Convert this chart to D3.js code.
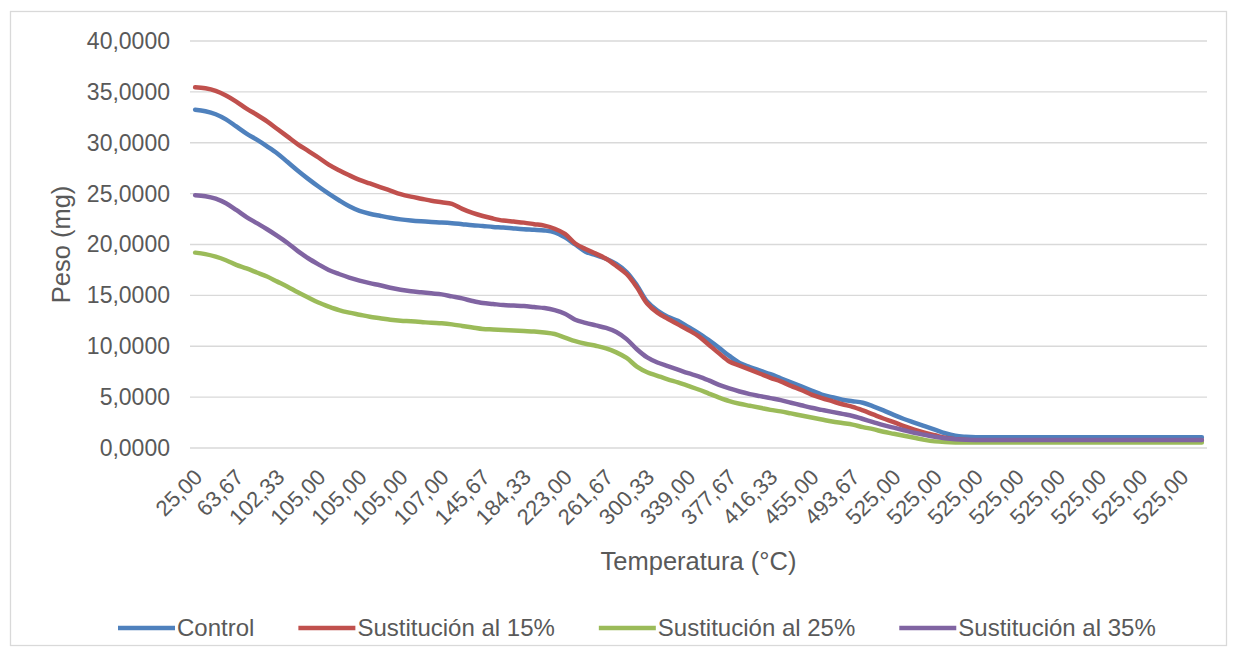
<!DOCTYPE html>
<html>
<head>
<meta charset="utf-8">
<script src="https://cdn.jsdelivr.net/npm/d3@7"></script>
<style>
  body { margin: 0; background: #ffffff; }
  svg { display: block; }
  text { font-family: "Liberation Sans", Arial, sans-serif; fill: #595959; }
</style>
</head>
<body>
<svg id="chart" width="1237" height="656"></svg>
<script>
// Temperatura (°C) for every sample of the thermogravimetric run
const temperatura = [
  25.00, 34.67, 44.33, 54.00, 63.67, 73.33, 83.00, 92.67, 102.33,
  105.00, 105.00, 105.00, 105.00, 105.00, 105.00, 105.00, 105.00, 105.00, 105.00,
  105.00, 105.00, 105.00, 105.00, 105.00,
  107.00,
  116.67, 126.33, 136.00, 145.67, 155.33, 165.00, 174.67, 184.33, 194.00, 203.67,
  213.33, 223.00, 232.67, 242.33, 252.00, 261.67, 271.33, 281.00, 290.67, 300.33,
  310.00, 319.67, 329.33, 339.00, 348.67, 358.33, 368.00, 377.67, 387.33, 397.00,
  406.67, 416.33, 426.00, 435.67, 445.33, 455.00, 464.67, 474.33, 484.00, 493.67,
  503.33, 513.00, 522.67,
  525.00, 525.00, 525.00, 525.00, 525.00, 525.00, 525.00, 525.00, 525.00, 525.00,
  525.00, 525.00, 525.00, 525.00, 525.00, 525.00, 525.00, 525.00, 525.00, 525.00,
  525.00, 525.00, 525.00, 525.00, 525.00, 525.00, 525.00, 525.00, 525.00, 525.00,
  525.00
];

// Peso (mg) per sample
const control = [
  33.25, 33.10, 32.80, 32.30, 31.60, 30.90, 30.30, 29.65, 28.95, 28.10,
  27.25, 26.45, 25.70, 25.00, 24.35, 23.75, 23.30, 23.02, 22.82, 22.63,
  22.47, 22.36, 22.28, 22.22, 22.17, 22.10, 22.00, 21.90, 21.82, 21.73,
  21.67, 21.58, 21.50, 21.45, 21.38, 21.20, 20.70, 20.00, 19.30, 18.95,
  18.60, 18.10, 17.30, 16.00, 14.40, 13.50, 12.90, 12.50, 11.90, 11.30,
  10.60, 9.85, 9.05, 8.35, 7.95, 7.60, 7.25, 6.85, 6.45, 6.05,
  5.65, 5.25, 5.00, 4.75, 4.60, 4.45, 4.10, 3.70, 3.25, 2.85,
  2.50, 2.15, 1.80, 1.45, 1.20, 1.10, 1.05, 1.05, 1.05, 1.05,
  1.05, 1.05, 1.05, 1.05, 1.05, 1.05, 1.05, 1.05, 1.05, 1.05,
  1.05, 1.05, 1.05, 1.05, 1.05, 1.05, 1.05, 1.05, 1.05
];

const sustitucion15 = [
  35.45, 35.35, 35.10, 34.65, 34.05, 33.35, 32.75, 32.10, 31.35, 30.60,
  29.85, 29.20, 28.55, 27.85, 27.30, 26.80, 26.35, 26.00, 25.65, 25.30,
  24.95, 24.70, 24.50, 24.30, 24.15, 24.00, 23.50, 23.10, 22.80, 22.55,
  22.35, 22.25, 22.15, 22.00, 21.85, 21.55, 21.05, 20.10, 19.55, 19.10,
  18.60, 17.90, 17.10, 15.80, 14.20, 13.30, 12.70, 12.15, 11.60, 11.00,
  10.15, 9.30, 8.50, 8.10, 7.70, 7.30, 6.90, 6.55, 6.10, 5.70,
  5.25, 4.90, 4.60, 4.30, 4.05, 3.70, 3.30, 2.90, 2.55, 2.15,
  1.80, 1.50, 1.25, 1.00, 0.85, 0.78, 0.75, 0.75, 0.75, 0.75,
  0.75, 0.75, 0.75, 0.75, 0.75, 0.75, 0.75, 0.75, 0.75, 0.75,
  0.75, 0.75, 0.75, 0.75, 0.75, 0.75, 0.75, 0.75, 0.75
];

const sustitucion25 = [
  19.20, 19.05, 18.80, 18.45, 18.00, 17.65, 17.25, 16.85, 16.35, 15.85,
  15.30, 14.80, 14.30, 13.90, 13.55, 13.30, 13.10, 12.90, 12.75, 12.60,
  12.50, 12.45, 12.38, 12.30, 12.25, 12.15, 12.00, 11.85, 11.70, 11.65,
  11.60, 11.55, 11.50, 11.45, 11.35, 11.20, 10.85, 10.50, 10.25, 10.05,
  9.80, 9.40, 8.85, 8.00, 7.45, 7.10, 6.75, 6.45, 6.10, 5.75,
  5.35, 4.95, 4.60, 4.35, 4.15, 3.95, 3.75, 3.60, 3.40, 3.20,
  3.00, 2.80, 2.60, 2.45, 2.30, 2.05, 1.85, 1.60, 1.40, 1.20,
  1.00, 0.80, 0.65, 0.58, 0.55, 0.55, 0.55, 0.55, 0.55, 0.55,
  0.55, 0.55, 0.55, 0.55, 0.55, 0.55, 0.55, 0.55, 0.55, 0.55,
  0.55, 0.55, 0.55, 0.55, 0.55, 0.55, 0.55, 0.55, 0.55
];

const sustitucion35 = [
  24.85, 24.75, 24.50, 24.05, 23.40, 22.70, 22.10, 21.50, 20.85, 20.15,
  19.35, 18.65, 18.05, 17.50, 17.10, 16.75, 16.45, 16.20, 16.00, 15.75,
  15.55, 15.40, 15.30, 15.20, 15.10, 14.90, 14.70, 14.45, 14.25, 14.15,
  14.05, 14.00, 13.95, 13.85, 13.75, 13.55, 13.20, 12.60, 12.30, 12.05,
  11.80, 11.40, 10.70, 9.70, 8.90, 8.40, 8.05, 7.70, 7.35, 7.05,
  6.65, 6.20, 5.85, 5.55, 5.30, 5.10, 4.90, 4.70, 4.45, 4.20,
  3.95, 3.75, 3.55, 3.35, 3.15, 2.85, 2.55, 2.25, 2.00, 1.75,
  1.50, 1.30, 1.10, 0.95, 0.85, 0.80, 0.78, 0.78, 0.78, 0.78,
  0.78, 0.78, 0.78, 0.78, 0.78, 0.78, 0.78, 0.78, 0.78, 0.78,
  0.78, 0.78, 0.78, 0.78, 0.78, 0.78, 0.78, 0.78, 0.78
];

const seriesNames = ["Control", "Sustitución al 15%", "Sustitución al 25%", "Sustitución al 35%"];
const seriesValues = [control, sustitucion15, sustitucion25, sustitucion35];
const seriesColors = ["#4F81BD", "#C0504D", "#9BBB59", "#8064A2"];

const yTicks = [0, 5, 10, 15, 20, 25, 30, 35, 40];
const labelEvery = 4;  // one temperature label every fourth sample

const xTitle = "Temperatura (°C)";
const yTitle = "Peso (mg)";

// Spanish number formatting: decimal comma
const es = d3.formatLocale({ decimal: ",", thousands: ".", grouping: [3], currency: ["", " €"] });
const fmtY = es.format(".4f");
const fmtX = es.format(".2f");

const svg = d3.select("#chart");
const W = 1237, H = 656;
const plot = { left: 190, right: 1207, top: 41, bottom: 448 };

// chart frame
svg.append("rect")
  .attr("x", 10.5).attr("y", 11.5)
  .attr("width", W - 21).attr("height", H - 22)
  .attr("fill", "#ffffff").attr("stroke", "#d9d9d9").attr("stroke-width", 1.3);

const indices = d3.range(temperatura.length);
const x = d3.scaleBand().domain(indices).range([plot.left, plot.right]);
const cx = i => x(i) + x.bandwidth() / 2;
const y = d3.scaleLinear().domain([0, 40]).range([plot.bottom, plot.top]);

// horizontal gridlines
svg.append("g")
  .selectAll("line")
  .data(yTicks)
  .join("line")
  .attr("x1", plot.left).attr("x2", plot.right)
  .attr("y1", d => y(d)).attr("y2", d => y(d))
  .attr("stroke", "#d9d9d9").attr("stroke-width", 1.3);

// y axis labels
const yAxis = svg.append("g")
  .attr("transform", `translate(${plot.left - 12},0)`)
  .call(d3.axisLeft(y).tickValues(yTicks).tickFormat(fmtY).tickSize(0).tickPadding(8));
yAxis.select(".domain").remove();
yAxis.selectAll("text")
  .style("font-size", "23px")
  .style("fill", "#595959")
  .style("font-family", "'Liberation Sans', Arial, sans-serif");

// x axis labels, rotated
const xAxis = svg.append("g")
  .attr("transform", `translate(0,${plot.bottom})`)
  .call(d3.axisBottom(x)
    .tickValues(indices.filter(i => i % labelEvery === 0))
    .tickFormat(i => fmtX(temperatura[i]))
    .tickSize(0));
xAxis.select(".domain").remove();
xAxis.selectAll("text")
  .style("font-size", "22px")
  .style("fill", "#595959")
  .style("font-family", "'Liberation Sans', Arial, sans-serif")
  .attr("text-anchor", "end")
  .attr("dy", "0.35em")
  .attr("transform", "translate(1,23) rotate(-45)");

// series lines
const line = d3.line()
  .x((d, i) => cx(i))
  .y(d => y(d))
  .curve(d3.curveCatmullRom.alpha(0.5));

svg.append("g")
  .selectAll("path")
  .data(seriesValues)
  .join("path")
  .attr("d", d => line(d))
  .attr("fill", "none")
  .attr("stroke", (d, i) => seriesColors[i])
  .attr("stroke-width", 4.5)
  .attr("stroke-linecap", "round")
  .attr("stroke-linejoin", "round");

// axis titles
svg.append("text")
  .attr("x", (plot.left + plot.right) / 2).attr("y", 570)
  .attr("text-anchor", "middle")
  .style("font-size", "25.5px")
  .text(xTitle);

svg.append("text")
  .attr("transform", `translate(70,${(plot.top + plot.bottom) / 2}) rotate(-90)`)
  .attr("text-anchor", "middle")
  .style("font-size", "25.5px")
  .text(yTitle);

// legend
const legend = svg.append("g").attr("transform", "translate(0,628)");
let lx = 118;
seriesNames.forEach((name, i) => {
  legend.append("line")
    .attr("x1", lx).attr("x2", lx + 57)
    .attr("y1", 0).attr("y2", 0)
    .attr("stroke", seriesColors[i]).attr("stroke-width", 4.5);
  const t = legend.append("text")
    .attr("x", lx + 59).attr("y", 0).attr("dy", "0.35em")
    .style("font-size", "24px")
    .text(name);
  lx += 59 + t.node().getComputedTextLength() + 44;
});
</script>
</body>
</html>
